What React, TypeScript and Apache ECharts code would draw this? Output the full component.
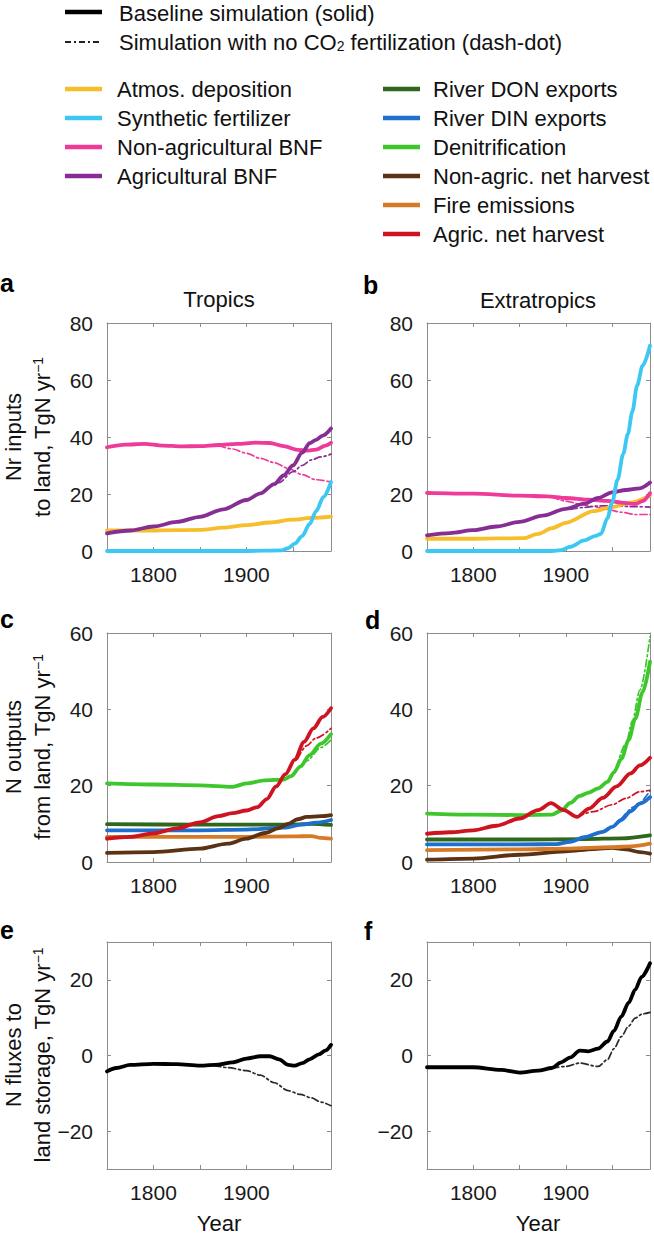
import React, { useEffect, useRef } from 'react';
import * as echarts from 'echarts';

type Pt = [number, number];

// ---------- axis ranges / ticks ----------
const YEAR_MIN = 1750;
const YEAR_MAX = 1991;
const yearLabels = [1800, 1900];
const storageTicks = [-20, 0, 20];

// ---------- colours ----------
const C_ATMOS = '#F7BE2C';
const C_FERT = '#3CC8F2';
const C_NONAGBNF = '#EE3A98';
const C_AGBNF = '#872E94';
const C_DON = '#2E681C';
const C_DIN = '#1F6FCE';
const C_DENIT = '#3DC72C';
const C_NONAGHARV = '#5B3214';
const C_FIRE = '#D57A27';
const C_AGHARV = '#CE1420';

// ---------- panel a: tropics inputs ----------
const aAtmos: Pt[] = [[1750, 7.2], [1800, 7.2], [1850, 7.4], [1875, 8.2], [1900, 9.1], [1925, 10.0], [1950, 11.0], [1970, 11.6], [1991, 12.1]];
const aFert: Pt[] = [[1750, 0], [1900, 0], [1938, 0.2], [1945, 1.0], [1952, 2.6], [1960, 5.2], [1968, 9.5], [1975, 14.0], [1983, 19.0], [1991, 24.2]];
const aNonAgBNF: Pt[] = [[1750, 36.4], [1770, 37.3], [1790, 37.6], [1810, 37.0], [1830, 36.7], [1850, 36.8], [1870, 37.2], [1890, 37.6], [1910, 38.0], [1925, 37.9], [1940, 36.8], [1955, 35.5], [1965, 35.2], [1975, 35.6], [1985, 37.0], [1991, 38.0]];
const aNonAgBNFnoCO2: Pt[] = [[1870, 37.0], [1885, 35.8], [1900, 34.3], [1915, 32.5], [1930, 31.0], [1945, 29.0], [1960, 26.8], [1975, 25.0], [1991, 24.2]];
const aAgBNF: Pt[] = [[1750, 6.2], [1775, 7.2], [1800, 8.6], [1825, 10.2], [1850, 12.0], [1875, 14.6], [1900, 17.9], [1915, 20.2], [1930, 23.5], [1940, 26.5], [1950, 30.0], [1960, 34.5], [1968, 37.8], [1975, 39.0], [1982, 40.5], [1991, 43.0]];
const aAgBNFnoCO2: Pt[] = [[1920, 21.0], [1935, 24.0], [1950, 27.8], [1960, 30.0], [1970, 32.0], [1980, 33.0], [1991, 34.0]];

// ---------- panel b: extratropics inputs ----------
const bAtmos: Pt[] = [[1750, 4.3], [1800, 4.3], [1855, 4.5], [1870, 6.0], [1885, 8.0], [1900, 9.9], [1930, 14.0], [1950, 15.4], [1970, 17.0], [1991, 19.5]];
const bFert: Pt[] = [[1750, 0], [1885, 0], [1895, 0.3], [1905, 1.5], [1920, 3.7], [1932, 5.3], [1938, 6.0], [1945, 11.5], [1950, 17.0], [1956, 25.0], [1962, 34.0], [1967, 41.0], [1972, 49.0], [1977, 58.0], [1983, 65.0], [1991, 72.0]];
const bNonAgBNF: Pt[] = [[1750, 20.4], [1800, 20.1], [1850, 19.4], [1880, 19.2], [1900, 18.6], [1925, 18.0], [1945, 17.6], [1960, 17.0], [1975, 16.5], [1983, 17.5], [1991, 20.3]];
const bNonAgBNFnoCO2: Pt[] = [[1885, 19.0], [1900, 17.5], [1915, 16.5], [1930, 15.6], [1945, 14.6], [1960, 13.6], [1975, 12.8], [1991, 12.8]];
const bAgBNF: Pt[] = [[1750, 5.5], [1775, 6.3], [1800, 7.3], [1825, 8.6], [1850, 10.2], [1875, 12.4], [1900, 14.8], [1920, 16.6], [1935, 18.6], [1950, 20.6], [1965, 21.4], [1980, 22.0], [1991, 24.0]];
const bAgBNFnoCO2: Pt[] = [[1905, 14.6], [1920, 15.3], [1935, 15.8], [1950, 15.9], [1970, 15.6], [1991, 15.4]];

// ---------- panel c: tropics outputs ----------
const cDON: Pt[] = [[1750, 9.9], [1850, 9.8], [1950, 9.8], [1970, 10.0], [1991, 9.7]];
const cDIN: Pt[] = [[1750, 8.3], [1850, 8.3], [1900, 8.5], [1940, 9.0], [1960, 9.8], [1975, 10.3], [1991, 11.0]];
const cDenit: Pt[] = [[1750, 20.6], [1800, 20.3], [1850, 20.1], [1885, 19.7], [1900, 20.6], [1920, 21.4], [1940, 21.6], [1948, 22.5], [1958, 25.0], [1968, 28.0], [1980, 31.0], [1991, 33.5]];
const cDenitNoCO2: Pt[] = [[1950, 22.8], [1965, 26.5], [1980, 30.0], [1991, 32.0]];
const cNonAgHarv: Pt[] = [[1750, 2.4], [1800, 2.6], [1850, 3.5], [1880, 4.8], [1900, 6.1], [1920, 7.6], [1935, 8.9], [1945, 10.0], [1955, 11.2], [1965, 11.8], [1980, 12.0], [1991, 12.3]];
const cFire: Pt[] = [[1750, 6.6], [1850, 6.6], [1900, 6.6], [1950, 6.7], [1970, 6.8], [1980, 6.3], [1991, 6.1]];
const cAgHarv: Pt[] = [[1750, 6.1], [1775, 6.6], [1800, 7.5], [1825, 8.8], [1850, 10.4], [1870, 12.0], [1885, 12.8], [1900, 13.5], [1912, 14.4], [1922, 16.5], [1932, 19.8], [1942, 23.0], [1952, 26.8], [1962, 31.5], [1972, 35.0], [1982, 38.0], [1991, 40.3]];
const cAgHarvNoCO2: Pt[] = [[1955, 27.0], [1965, 30.5], [1975, 32.5], [1991, 35.0]];

// ---------- panel d: extratropics outputs ----------
const dDON: Pt[] = [[1750, 5.9], [1850, 5.9], [1920, 6.0], [1960, 6.2], [1991, 7.0]];
const dDIN: Pt[] = [[1750, 4.6], [1850, 4.6], [1890, 4.7], [1905, 5.3], [1920, 6.5], [1940, 7.9], [1950, 9.2], [1960, 11.0], [1970, 13.3], [1980, 15.3], [1991, 17.0]];
const dDINnoCO2: Pt[] = [[1960, 11.3], [1975, 14.6], [1991, 18.6]];
const dDenit: Pt[] = [[1750, 12.7], [1800, 12.4], [1850, 12.3], [1885, 12.4], [1895, 13.5], [1905, 15.5], [1915, 17.3], [1925, 18.2], [1935, 19.3], [1945, 21.0], [1952, 23.5], [1960, 27.0], [1968, 32.0], [1975, 37.5], [1983, 44.5], [1991, 52.5]];
const dDenitNoCO2: Pt[] = [[1955, 25.0], [1965, 31.0], [1972, 37.0], [1980, 45.0], [1991, 59.0]];
const dNonAgHarv: Pt[] = [[1750, 0.6], [1800, 0.9], [1850, 1.9], [1900, 2.8], [1930, 3.4], [1950, 3.7], [1965, 3.3], [1980, 2.6], [1991, 2.2]];
const dFire: Pt[] = [[1750, 3.1], [1850, 3.3], [1900, 3.5], [1950, 3.9], [1970, 4.1], [1991, 4.8]];
const dAgHarv: Pt[] = [[1750, 7.4], [1775, 7.8], [1800, 8.3], [1825, 9.5], [1850, 11.4], [1870, 13.6], [1884, 15.4], [1898, 13.6], [1912, 11.8], [1925, 14.0], [1940, 16.8], [1955, 19.8], [1970, 23.2], [1980, 25.3], [1991, 27.3]];
const dAgHarvNoCO2: Pt[] = [[1912, 11.8], [1930, 13.2], [1950, 15.0], [1965, 16.7], [1980, 18.4], [1991, 18.8]];

// ---------- panels e, f: net flux to land storage ----------
const eStorage: Pt[] = [[1750, -4.2], [1760, -3.3], [1775, -2.5], [1800, -2.2], [1825, -2.3], [1850, -2.7], [1870, -2.4], [1885, -1.8], [1900, -0.8], [1915, -0.2], [1925, -0.2], [1935, -1.0], [1945, -2.5], [1952, -2.7], [1960, -2.0], [1968, -1.0], [1978, 0.3], [1985, 1.3], [1991, 2.8]];
const eStorageNoCO2: Pt[] = [[1865, -2.6], [1880, -3.2], [1900, -4.0], [1915, -5.2], [1930, -7.2], [1945, -9.3], [1958, -10.3], [1970, -11.2], [1980, -12.3], [1991, -13.3]];
const fStorage: Pt[] = [[1750, -3.1], [1800, -3.1], [1830, -3.8], [1850, -4.5], [1870, -4.0], [1885, -3.3], [1895, -1.8], [1905, -0.5], [1915, 1.3], [1924, 1.1], [1935, 1.8], [1945, 3.7], [1952, 6.5], [1960, 10.3], [1968, 14.0], [1975, 17.4], [1982, 20.8], [1991, 24.4]];
const fStorageNoCO2: Pt[] = [[1885, -3.3], [1900, -2.9], [1915, -2.0], [1935, -2.9], [1945, -1.1], [1952, 1.8], [1960, 5.0], [1968, 7.8], [1975, 9.9], [1983, 11.0], [1991, 11.4]];

// ---------- legend ----------
const legendLeft = [
  { name: 'Atmos. deposition', color: C_ATMOS },
  { name: 'Synthetic fertilizer', color: C_FERT },
  { name: 'Non-agricultural BNF', color: C_NONAGBNF },
  { name: 'Agricultural BNF', color: C_AGBNF },
];
const legendRight = [
  { name: 'River DON exports', color: C_DON },
  { name: 'River DIN exports', color: C_DIN },
  { name: 'Denitrification', color: C_DENIT },
  { name: 'Non-agric. net harvest', color: C_NONAGHARV },
  { name: 'Fire emissions', color: C_FIRE },
  { name: 'Agric. net harvest', color: C_AGHARV },
];

const FONT = '"Liberation Sans", Arial, Helvetica, sans-serif';
const BOX = '#8c8c8c';

const grids = [
  { left: 107, top: 323, width: 224, height: 228 },
  { left: 427, top: 323, width: 223, height: 228 },
  { left: 107, top: 633, width: 224, height: 229 },
  { left: 427, top: 633, width: 223, height: 229 },
  { left: 107, top: 942, width: 224, height: 227 },
  { left: 427, top: 942, width: 223, height: 227 },
];
const yRanges = [
  { min: 0, max: 80, interval: 20 },
  { min: 0, max: 80, interval: 20 },
  { min: 0, max: 60, interval: 20 },
  { min: 0, max: 60, interval: 20 },
  { min: -30, max: 30, interval: 10 },
  { min: -30, max: 30, interval: 10 },
];

function mk(name: string, data: Pt[], color: string, gi: number, dashed = false) {
  return {
    type: 'line',
    name,
    data,
    xAxisIndex: 2 * gi,
    yAxisIndex: 2 * gi,
    symbol: 'none',
    showSymbol: false,
    silent: true,
    smooth: 0.3,
    smoothMonotone: 'x',
    z: dashed ? 2 : 3,
    lineStyle: {
      color,
      width: dashed ? 1.7 : 3.8,
      type: dashed ? [7, 3, 2, 3] : 'solid',
      cap: 'round',
      join: 'round',
    },
  };
}

function buildOption() {
  const xAxis: any[] = [];
  const yAxis: any[] = [];
  grids.forEach((_, gi) => {
    const tickBase = { show: true, inside: true, length: 4, lineStyle: { color: BOX, width: 1 } };
    xAxis.push({
      type: 'value', gridIndex: gi, min: YEAR_MIN, max: YEAR_MAX, interval: 50, position: 'bottom',
      axisLine: { show: true, onZero: false, lineStyle: { color: BOX, width: 1 } },
      axisTick: tickBase,
      splitLine: { show: false },
      axisLabel: {
        show: true, margin: 13, fontSize: 21, fontFamily: FONT, color: '#1a1a1a',
        showMinLabel: true, showMaxLabel: false,
        formatter: (v: number) => (yearLabels.includes(v) ? String(v) : ''),
      },
    });
    xAxis.push({
      type: 'value', gridIndex: gi, min: YEAR_MIN, max: YEAR_MAX, interval: 50, position: 'top',
      axisLine: { show: true, onZero: false, lineStyle: { color: BOX, width: 1 } },
      axisTick: tickBase, axisLabel: { show: false }, splitLine: { show: false },
    });
    const yr = yRanges[gi];
    const isStorage = gi >= 4;
    yAxis.push({
      type: 'value', gridIndex: gi, min: yr.min, max: yr.max, interval: yr.interval, position: 'left',
      axisLine: { show: true, onZero: false, lineStyle: { color: BOX, width: 1 } },
      axisTick: isStorage ? { ...tickBase, customValues: storageTicks } : tickBase,
      splitLine: { show: false },
      axisLabel: {
        show: true, margin: 14, fontSize: 21, fontFamily: FONT, color: '#1a1a1a',
        ...(isStorage ? { customValues: storageTicks } : {}),
        formatter: (v: number) => {
          if (isStorage && !storageTicks.includes(v)) return '';
          return v < 0 ? '\u2212' + Math.abs(v) : String(v);
        },
      },
    });
    yAxis.push({
      type: 'value', gridIndex: gi, min: yr.min, max: yr.max, interval: yr.interval, position: 'right',
      axisLine: { show: true, onZero: false, lineStyle: { color: BOX, width: 1 } },
      axisTick: isStorage ? { ...tickBase, customValues: storageTicks } : tickBase,
      axisLabel: { show: false }, splitLine: { show: false },
    });
  });

  const series: any[] = [
    // a
    mk('Non-agricultural BNF (no CO2)', aNonAgBNFnoCO2, C_NONAGBNF, 0, true),
    mk('Agricultural BNF (no CO2)', aAgBNFnoCO2, C_AGBNF, 0, true),
    mk('Atmos. deposition', aAtmos, C_ATMOS, 0),
    mk('Synthetic fertilizer', aFert, C_FERT, 0),
    mk('Non-agricultural BNF', aNonAgBNF, C_NONAGBNF, 0),
    mk('Agricultural BNF', aAgBNF, C_AGBNF, 0),
    // b
    mk('Non-agricultural BNF (no CO2)', bNonAgBNFnoCO2, C_NONAGBNF, 1, true),
    mk('Agricultural BNF (no CO2)', bAgBNFnoCO2, C_AGBNF, 1, true),
    mk('Atmos. deposition', bAtmos, C_ATMOS, 1),
    mk('Non-agricultural BNF', bNonAgBNF, C_NONAGBNF, 1),
    mk('Agricultural BNF', bAgBNF, C_AGBNF, 1),
    mk('Synthetic fertilizer', bFert, C_FERT, 1),
    // c
    mk('Denitrification (no CO2)', cDenitNoCO2, C_DENIT, 2, true),
    mk('Agric. net harvest (no CO2)', cAgHarvNoCO2, C_AGHARV, 2, true),
    mk('River DON exports', cDON, C_DON, 2),
    mk('River DIN exports', cDIN, C_DIN, 2),
    mk('Fire emissions', cFire, C_FIRE, 2),
    mk('Non-agric. net harvest', cNonAgHarv, C_NONAGHARV, 2),
    mk('Denitrification', cDenit, C_DENIT, 2),
    mk('Agric. net harvest', cAgHarv, C_AGHARV, 2),
    // d
    mk('Denitrification (no CO2)', dDenitNoCO2, C_DENIT, 3, true),
    mk('Agric. net harvest (no CO2)', dAgHarvNoCO2, C_AGHARV, 3, true),
    mk('River DIN exports (no CO2)', dDINnoCO2, C_DIN, 3, true),
    mk('Non-agric. net harvest', dNonAgHarv, C_NONAGHARV, 3),
    mk('Fire emissions', dFire, C_FIRE, 3),
    mk('River DON exports', dDON, C_DON, 3),
    mk('River DIN exports', dDIN, C_DIN, 3),
    mk('Denitrification', dDenit, C_DENIT, 3),
    mk('Agric. net harvest', dAgHarv, C_AGHARV, 3),
    // e, f
    mk('Storage (no CO2)', eStorageNoCO2, '#2a2a2a', 4, true),
    mk('Storage', eStorage, '#000000', 4),
    mk('Storage (no CO2)', fStorageNoCO2, '#2a2a2a', 5, true),
    mk('Storage', fStorage, '#000000', 5),
  ];

  const txt = (text: string, x: number, y: number, extra: any = {}) => ({
    type: 'text', x, y, silent: true,
    style: { text, fontSize: 22, fontFamily: FONT, fill: '#111', align: 'left', verticalAlign: 'middle', ...extra },
  });
  const seg = (x1: number, x2: number, y: number, stroke: string, lineWidth: number, lineDash?: number[]) => ({
    type: 'line', silent: true,
    shape: { x1, y1: y, x2, y2: y },
    style: { stroke, lineWidth, lineDash, lineCap: 'butt' },
  });
  const supRich = { sup: { fontSize: 14, fontFamily: FONT, fill: '#111', verticalAlign: 'top', padding: [0, 0, 8, 0] } };

  const graphic: any[] = [];
  // style legend
  graphic.push(seg(65, 102, 12, '#000', 4.5));
  graphic.push(txt('Baseline simulation (solid)', 119, 13));
  graphic.push(seg(65, 102, 42, '#222', 2.2, [6, 3, 2, 3]));
  graphic.push(txt('Simulation with no CO{sub|2} fertilization (dash-dot)', 119, 42, {
    rich: { sub: { fontSize: 14, fontFamily: FONT, fill: '#111', verticalAlign: 'bottom', padding: [8, 0, 0, 0] } },
  }));
  legendLeft.forEach((it, i) => {
    const y = 89 + 29 * i;
    graphic.push(seg(65, 102, y, it.color, 4.5));
    graphic.push(txt(it.name, 117, y));
  });
  legendRight.forEach((it, i) => {
    const y = 89 + 29 * i;
    graphic.push(seg(383, 420, y, it.color, 4.5));
    graphic.push(txt(it.name, 433, y));
  });
  // panel letters
  const letters: [string, number, number][] = [['a', 0, 283], ['b', 363, 285], ['c', 0, 619], ['d', 365, 620], ['e', 0, 930], ['f', 364, 931]];
  letters.forEach(([l, x, y]) => graphic.push(txt(l, x, y, { fontSize: 25, fontWeight: 'bold', fill: '#000' })));
  // column titles
  graphic.push(txt('Tropics', 219, 299, { align: 'center' }));
  graphic.push(txt('Extratropics', 538, 300, { align: 'center' }));
  // x axis titles
  graphic.push(txt('Year', 219, 1223, { align: 'center' }));
  graphic.push(txt('Year', 538, 1223, { align: 'center' }));
  // y axis titles (rotated)
  const yTitles: [string, string, number][] = [
    ['Nr inputs', 'to land, TgN yr{sup|\u22121}', 437],
    ['N outputs', 'from land, TgN yr{sup|\u22121}', 747],
    ['N fluxes to', 'land storage, TgN yr{sup|\u22121}', 1055],
  ];
  yTitles.forEach(([l1, l2, cy]) => {
    graphic.push({ ...txt(l1, 13, cy, { align: 'center' }), rotation: Math.PI / 2 });
    graphic.push({ ...txt(l2, 42, cy, { align: 'center', rich: supRich }), rotation: Math.PI / 2 });
  });

  return {
    animation: false,
    backgroundColor: '#ffffff',
    textStyle: { fontFamily: FONT },
    grid: grids.map((g) => ({ ...g, show: false, containLabel: false })),
    xAxis,
    yAxis,
    series,
    graphic,
  };
}

export default function App() {
  const ref = useRef<HTMLDivElement>(null);
  useEffect(() => {
    if (!ref.current) return;
    const chart = echarts.init(ref.current, undefined, { renderer: 'svg' });
    chart.setOption(buildOption() as any);
    return () => chart.dispose();
  }, []);
  return (
    <div
      ref={ref}
      style={{ position: 'absolute', left: 0, top: 0, width: 654, height: 1237, background: '#fff' }}
    />
  );
}
